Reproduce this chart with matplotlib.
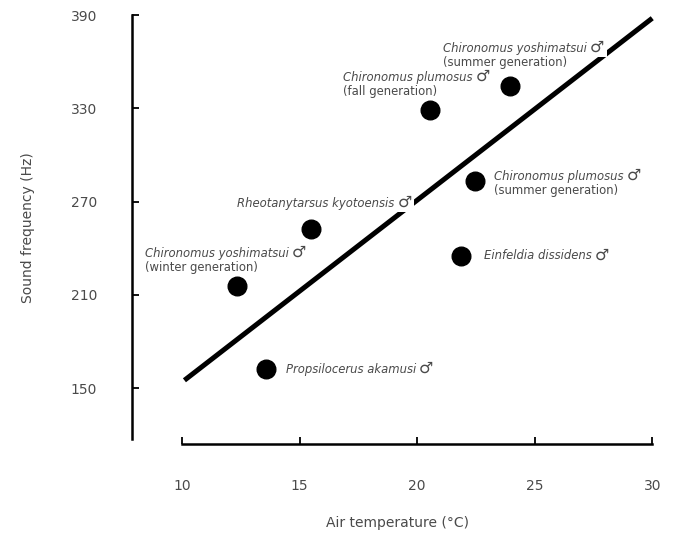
# importing necessary modules
import matplotlib
matplotlib.use("Agg")
import matplotlib.pyplot as plt

# air temperature (deg C) and sound frequency (Hz) of each species
species = ["Chironomus yoshimatsui", "Chironomus plumosus", "Chironomus plumosus",
           "Rheotanytarsus kyotoensis", "Chironomus yoshimatsui",
           "Einfeldia dissidens", "Propsilocerus akamusi"]
generation = ["(summer generation)", "(fall generation)", "(summer generation)",
              "", "(winter generation)", "", ""]
temperature = [23.96, 20.55, 22.47, 15.49, 12.34, 21.87, 13.57]
frequency = [344.3, 328.9, 283.2, 252.3, 215.6, 235.0, 162.2]

# regression line end points
line_temp = [10.1, 30.0]
line_freq = [155.0, 388.0]

x_ticks = [10, 15, 20, 25, 30]
y_ticks = [150, 210, 270, 330, 390]

# label offsets in pixels (dx, dy) from each point
offsets = [(-67, 31), (-87, 26), (19, -2), (-74, 26), (-92, 26), (23, 0), (20, 0)]

grey = "#4a4a4a"
white_box = dict(facecolor="white", edgecolor="none", pad=1.5)


def main():
    fig = plt.figure(figsize=(6.74, 5.36), dpi=100)
    ax = fig.add_axes([132 / 674, 1 - 444 / 536, 532 / 674, 432 / 536])

    ax.plot(line_temp, line_freq, color="black", lw=3.6, solid_capstyle="butt", zorder=1)
    ax.scatter(temperature, frequency, s=180, color="black", zorder=3)

    for i in range(len(species)):
        dx, dy = offsets[i]
        if generation[i]:
            dy_name = dy + 7
        else:
            dy_name = dy
        name = ax.annotate(species[i], (temperature[i], frequency[i]), xytext=(dx, dy_name),
                           textcoords="offset pixels", ha="left", va="center",
                           fontsize=8.4, style="italic", color=grey, zorder=4,
                           bbox=white_box)
        # male sign, a bit larger, right after the name
        ax.annotate("\u2642", xy=(1, 0.5), xycoords=name, xytext=(3, 1),
                    textcoords="offset pixels", ha="left", va="center",
                    fontsize=11.5, color=grey, zorder=4, bbox=white_box)
        if generation[i]:
            ax.annotate(generation[i], (temperature[i], frequency[i]), xytext=(dx, dy - 7),
                        textcoords="offset pixels", ha="left", va="center",
                        fontsize=8.4, color=grey, zorder=4)

    ax.set_xlim(7.87, 30.5)
    ax.set_ylim(114, 392)

    # separated spines like the original
    ax.spines["top"].set_visible(False)
    ax.spines["right"].set_visible(False)
    ax.spines["left"].set_bounds(117, 390)
    ax.spines["bottom"].set_bounds(10, 30)
    ax.spines["left"].set_linewidth(1.8)
    ax.spines["bottom"].set_linewidth(1.8)

    ax.set_xticks(x_ticks)
    ax.set_yticks(y_ticks)
    ax.tick_params(direction="in", length=5, width=1.3, labelsize=10,
                   labelcolor=grey, pad=25)

    ax.set_xlabel("Air temperature (\u00b0C)", fontsize=10, color=grey, labelpad=17)
    ax.set_ylabel("Sound frequency (Hz)", fontsize=10, color=grey, labelpad=26)

    fig.savefig("out.png", dpi=100)


if __name__ == "__main__":
    main()
